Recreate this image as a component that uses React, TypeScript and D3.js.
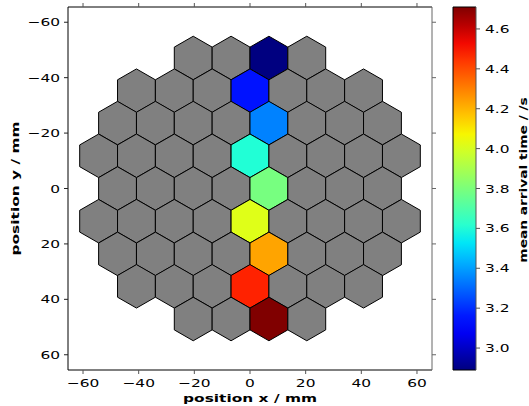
import React from "react";
import * as d3 from "d3";

// detector layout (mm) and measured mean arrival times
const rowY = [-47.1, -35.3, -23.6, -11.8, 0, 11.8, 23.6, 35.3, 47.1];
const rowX = [
  [-20.4, -6.8, 6.8, 20.4],
  [-40.8, -27.2, -13.6, 0, 13.6, 27.2, 40.8],
  [-47.6, -34, -20.4, -6.8, 6.8, 20.4, 34, 47.6],
  [-54.4, -40.8, -27.2, -13.6, 0, 13.6, 27.2, 40.8, 54.4],
  [-47.6, -34, -20.4, -6.8, 6.8, 20.4, 34, 47.6],
  [-54.4, -40.8, -27.2, -13.6, 0, 13.6, 27.2, 40.8, 54.4],
  [-47.6, -34, -20.4, -6.8, 6.8, 20.4, 34, 47.6],
  [-40.8, -27.2, -13.6, 0, 13.6, 27.2, 40.8],
  [-20.4, -6.8, 6.8, 20.4],
];
const activeX = [6.8, 0, 6.8, 0, 6.8, 0, 6.8, 0, 6.8];
const activeTime = [2.89, 3.15, 3.35, 3.6, 3.79, 4.02, 4.23, 4.48, 4.71];
const hexRadius = 7.85;

const xTicks = [-60, -40, -20, 0, 20, 40, 60];
const yTicks = [-60, -40, -20, 0, 20, 40, 60];
const cTicks = [3.0, 3.2, 3.4, 3.6, 3.8, 4.0, 4.2, 4.4, 4.6];
const timeDomain = [2.89, 4.71];

// matplotlib "jet" segment data
const jetR = d3.scaleLinear().domain([0, 0.35, 0.66, 0.89, 1]).range([0, 0, 1, 1, 0.5]).clamp(true);
const jetG = d3.scaleLinear().domain([0, 0.125, 0.375, 0.64, 0.91, 1]).range([0, 0, 1, 1, 0, 0]).clamp(true);
const jetB = d3.scaleLinear().domain([0, 0.11, 0.34, 0.65, 1]).range([0.5, 1, 1, 0, 0]).clamp(true);
const jet = (t: number) =>
  d3.rgb(jetR(t) * 255, jetG(t) * 255, jetB(t) * 255).formatHex();

const FONT = "DejaVu Sans";
const STRETCH = 1.4;

export default function App() {
  const left = 68, top = 7, right = 432, bottom = 370;
  const x = d3.scaleLinear().domain([-65.4, 65.4]).range([left, right]);
  const y = d3.scaleLinear().domain([-65.5, 65.5]).range([top, bottom]);
  const cbX = 453, cbW = 23;
  const c = d3.scaleLinear().domain(timeDomain).range([bottom, top]);
  const norm = d3.scaleLinear().domain(timeDomain).range([0, 1]);
  const fmt = d3.format(".1f");

  const cells: { cx: number; cy: number; t: number | null }[] = [];
  rowY.forEach((yy, i) => {
    rowX[i].forEach((xx) => {
      cells.push({ cx: xx, cy: yy, t: xx === activeX[i] ? activeTime[i] : null });
    });
  });

  const hexPath = (cx: number, cy: number) => {
    const pts = d3.range(6).map((k) => {
      const a = (Math.PI / 3) * k - Math.PI / 2;
      return [x(cx + hexRadius * Math.cos(a)), y(cy + hexRadius * Math.sin(a))] as [number, number];
    });
    return "M" + pts.map((p) => p.join(",")).join("L") + "Z";
  };

  const stops = d3.range(0, 1.0001, 0.05);

  return (
    <svg
      width={529}
      height={406}
      style={{ position: "absolute", left: 0, top: 0, background: "#fff" }}
      fontFamily={FONT}
    >
      <defs>
        <linearGradient id="jet" x1="0" y1="1" x2="0" y2="0">
          {stops.map((s) => (
            <stop key={s} offset={s} stopColor={jet(s)} />
          ))}
        </linearGradient>
      </defs>

      {cells.map((d, i) => (
        <path
          key={i}
          d={hexPath(d.cx, d.cy)}
          fill={d.t === null ? "#808080" : jet(norm(d.t))}
          stroke="#000"
          strokeWidth={1}
        />
      ))}

      {/* frame */}
      <line x1={left} x2={right} y1={top} y2={top} stroke="#000" />
      <line x1={left} x2={left} y1={top} y2={bottom} stroke="#000" />
      <line x1={left} x2={right} y1={bottom} y2={bottom} stroke="#000" />
      <line x1={right} x2={right} y1={top} y2={bottom} stroke="#666" />

      {xTicks.map((t) => (
        <g key={"x" + t}>
          <line x1={x(t)} x2={x(t)} y1={bottom} y2={bottom + 4} stroke="#555" />
          <line x1={x(t)} x2={x(t)} y1={top} y2={top - 4} stroke="#555" />
          <text
            transform={`translate(${x(t)},${bottom + 17}) scale(${STRETCH},1)`}
            textAnchor="middle"
            fontSize={11}
          >
            {d3.format("d")(t)}
          </text>
        </g>
      ))}
      {yTicks.map((t) => (
        <g key={"y" + t}>
          <line x1={left} x2={left - 4} y1={y(t)} y2={y(t)} stroke="#222" />
          <line x1={right} x2={right + 4} y1={y(t)} y2={y(t)} stroke="#666" />
          <text
            transform={`translate(${left - 8},${y(t) + 4}) scale(${STRETCH},1)`}
            textAnchor="end"
            fontSize={11}
          >
            {d3.format("d")(t)}
          </text>
        </g>
      ))}

      <text
        transform={`translate(${(left + right) / 2},402) scale(${STRETCH},1)`}
        textAnchor="middle"
        fontSize={11}
        fontWeight="bold"
      >
        position x / mm
      </text>
      <text
        transform={`translate(18.5,${(top + bottom) / 2}) rotate(-90) scale(${STRETCH},1)`}
        textAnchor="middle"
        fontSize={11}
        fontWeight="bold"
      >
        position y / mm
      </text>

      {/* colorbar */}
      <rect x={cbX} y={top} width={cbW} height={bottom - top} fill="url(#jet)" />
      <line x1={cbX} x2={cbX} y1={top} y2={bottom} stroke="#000" />
      <line x1={cbX} x2={cbX + cbW} y1={top} y2={top} stroke="#000" />
      <line x1={cbX} x2={cbX + cbW} y1={bottom} y2={bottom} stroke="#000" />
      <line x1={cbX + cbW} x2={cbX + cbW} y1={top} y2={bottom} stroke="#555" />
      {cTicks.map((t) => (
        <g key={"c" + t}>
          <line x1={cbX + cbW} x2={cbX + cbW + 4} y1={c(t)} y2={c(t)} stroke="#555" />
          <text
            transform={`translate(${cbX + cbW + 9},${c(t) + 4}) scale(${STRETCH},1)`}
            fontSize={11}
          >
            {fmt(t)}
          </text>
        </g>
      ))}
      <text
        transform={`translate(527,180) rotate(-90) scale(1.25,1)`}
        textAnchor="middle"
        fontSize={11}
        fontWeight="bold"
      >
        mean arrival time / /s
      </text>
    </svg>
  );
}
